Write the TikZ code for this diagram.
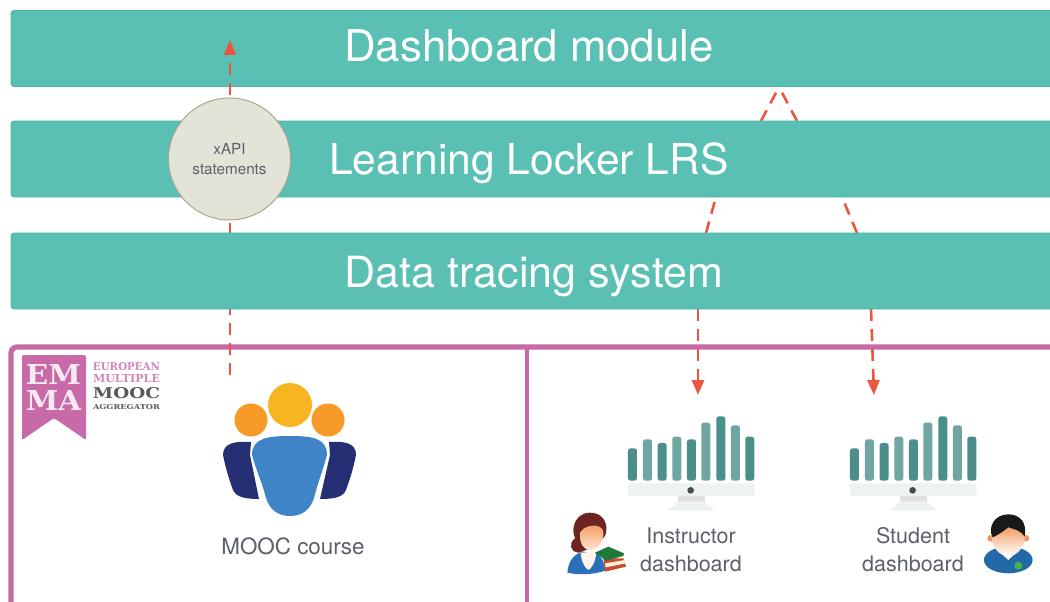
\documentclass[tikz,border=0pt]{standalone}
\usepackage{fontspec}
\usepackage{graphicx}
\setmainfont{TeX Gyre Heros}
\newfontfamily\thinfont{TeX Gyre Heros}[FakeBold=-0.25]
\newfontfamily\slabfont{DejaVu Serif}
\usetikzlibrary{arrows.meta}
\definecolor{tealbar}{HTML}{59C0B3}
\definecolor{tealedge}{HTML}{4DB5A7}
\definecolor{arrowred}{HTML}{E9573F}
\definecolor{framepink}{HTML}{C869A8}
\definecolor{labelgrey}{HTML}{5B606B}
\definecolor{bardark}{HTML}{4A8F89}
\definecolor{barlight}{HTML}{6FA6A1}
\definecolor{stand}{HTML}{EEF2F3}
\definecolor{discfill}{HTML}{E3E3D8}
\definecolor{discedge}{HTML}{A9A78F}
\definecolor{sunyellow}{HTML}{F6B521}
\definecolor{sunorange}{HTML}{F89A27}
\definecolor{navyblue}{HTML}{262F73}
\definecolor{midblue}{HTML}{3F84C6}
\definecolor{hairred}{HTML}{6E2420}
\definecolor{skindark}{HTML}{F2975A}
\definecolor{skinlight}{HTML}{FDE3CE}
\definecolor{coatblue}{HTML}{2A70B8}
\definecolor{bookred}{HTML}{C9492F}
\definecolor{bookgreen}{HTML}{1F7A3A}
\definecolor{shirtblue}{HTML}{2369A8}
\definecolor{pingreen}{HTML}{49B24A}
\tikzset{
  barbox/.style={draw=tealedge,line width=0.8pt,fill=tealbar,rounded corners=3pt,minimum width=1060pt,minimum height=76pt,inner sep=0pt},
  bartext/.style={text=white,inner sep=0pt},
  smalltext/.style={text=labelgrey,font=\fontsize{21.5}{28}\selectfont,align=center,inner sep=0pt},
  flow/.style={draw=arrowred,line width=2.6pt,dash pattern=on 12pt off 8pt},
  flowhead/.style={flow,-{Triangle[length=15pt,width=12pt,fill=arrowred]}},
  pics/monitor/.style={code={
    \foreach \xa/\t/\c in {264/205/bardark,309/178/barlight,353/189/bardark,397/170/barlight,441/178/bardark,484/128/barlight,529/109/bardark,573/136/barlight,616/170/bardark}{
      \fill[\c,rounded corners=2.5pt] (\xa,302) -- (\xa,\t) -- ({\xa+27},\t) -- ({\xa+27},302) -- cycle;
    }
    \fill[stand,rounded corners=2pt] (264,310) rectangle (644,348);
    \fill[black!70] (452,331) circle [radius=10];
    \fill[black!12] (414,348) rectangle (494,365);
    \fill[stand] (414,365) -- (494,365) -- (524,392) -- (382,392) -- cycle;
  }}
}
\begin{document}
\begin{tikzpicture}[x=1pt,y=-1pt]
\clip (0,0) rectangle (1050,602);
\fill[white] (0,0) rectangle (1050,602);
% free ends of connectors
\coordinate (moocstart) at (230,375);
\coordinate (leftend) at (230,40);
\coordinate (fork) at (779,87);
\coordinate (lrsUpL) at (761,121);
\coordinate (lrsUpR) at (797,121);
\coordinate (lrsLowL) at (716,197);
\coordinate (lrsLowR) at (842,197);
\coordinate (dataUpL) at (706,233);
\coordinate (dataUpR) at (857,233);
\coordinate (dataLowL) at (698,309);
\coordinate (dataLowR) at (871,309);
\coordinate (instrEnd) at (698,395);
\coordinate (studEnd) at (874,395);

% frame
\draw[framepink,line width=5.2pt,rounded corners=6pt] (1060,347) -- (11,347) -- (11,612);
\draw[framepink,line width=4.5pt] (527,347) -- (527,612);

\node[barbox] (dashbar) at (541,48.5) {};
\draw[flowhead] (moocstart) -- (leftend);
\draw[flow] (lrsUpL) -- (fork);
\draw[flow] (lrsUpR) -- (fork);
\draw[flow] (dataUpL) -- (lrsLowL);
\draw[flow] (dataUpR) -- (lrsLowR);
\draw[flowhead] (dataLowL) -- (instrEnd);
\draw[flowhead] (dataLowR) -- (studEnd);
\node[barbox] (lrsbar) at (541,159) {};
\node[barbox] (databar) at (541,271) {};
\node[bartext,font=\thinfont\fontsize{43.7}{44}\selectfont] (dashtxt) at (529,46) {Dashboard module};
\node[bartext,font=\thinfont\fontsize{42.6}{44}\selectfont] (lrstxt) at (529,163.5) {Learning Locker LRS};
\node[bartext,font=\thinfont\fontsize{43}{44}\selectfont] (datatxt) at (534,276.5) {Data tracing system};
\node[circle,draw=discedge,line width=1pt,fill=discfill,minimum size=122pt,inner sep=0pt,text=labelgrey,font=\fontsize{15.2}{20}\selectfont,align=center] (xapi) at (229.5,159) {xAPI\\statements};

% EMMA badge
\fill[framepink,rounded corners=2pt] (22,355) -- (86,355) -- (86,440) -- (54,418) -- (22,440) -- cycle;
\node[inner sep=0pt,text=white!85!framepink] (em) at (53.5,374) {\resizebox{55pt}{20pt}{\slabfont\bfseries EM}};
\node[inner sep=0pt,text=white!85!framepink] (ma) at (53.5,400) {\resizebox{55pt}{20pt}{\slabfont\bfseries MA}};
\node[inner sep=0pt,text=framepink!80!white] (eur) at (126.5,367) {\resizebox{67pt}{8pt}{\slabfont\bfseries EUROPEAN}};
\node[inner sep=0pt,text=framepink!80!white] (mul) at (126.5,379) {\resizebox{67pt}{8pt}{\slabfont\bfseries MULTIPLE}};
\node[inner sep=0pt,text=black!65] (moo) at (126.5,393) {\resizebox{67pt}{11pt}{\slabfont\bfseries MOOC}};
\node[inner sep=0pt,text=black!65] (agg) at (126.5,407) {\resizebox{67pt}{5pt}{\slabfont\bfseries AGGREGATOR}};

% people icon
\fill[sunyellow] (290,405) circle [radius=22];
\fill[sunorange] (251,420) circle [radius=16.5];
\fill[sunorange] (328,420) circle [radius=16.5];
\fill[navyblue] (251,442) .. controls (235,441) and (223,443) .. (223,455) .. controls (226,470) and (230,482) .. (233,490) .. controls (236,497) and (245,499) .. (259,499) -- (250,455) -- cycle;
\fill[navyblue] (329,442) .. controls (345,441) and (356,443) .. (356,455) .. controls (353,470) and (349,482) .. (346,490) .. controls (343,497) and (335,499) .. (320,499) -- (330,455) -- cycle;
\fill[midblue] (290,436) .. controls (312,436) and (327,438) .. (327,455) .. controls (323,470) and (318,482) .. (314,498) .. controls (310,510) and (302,516) .. (290,516) .. controls (278,516) and (270,510) .. (266,498) .. controls (262,482) and (256,470) .. (252,455) .. controls (252,438) and (268,436) .. (290,436) -- cycle;
\node[smalltext,font=\fontsize{22.4}{28}\selectfont] (mooctxt) at (293,546) {MOOC course};

% monitors
\begin{scope}[shift={(540,380)},x=0.3333pt,y=-0.3333pt]
  \pic {monitor};
  \begin{scope}[shift={(666,0)}]
    \pic {monitor};
  \end{scope}
  % instructor
  \fill[hairred] (150,398) .. controls (185,398) and (205,425) .. (198,460) .. controls (190,490) and (130,515) .. (115,518) .. controls (90,515) and (85,490) .. (105,475) .. controls (90,440) and (110,398) .. (150,398) -- cycle;
  \shade[top color=skindark,bottom color=skinlight] (120,465) .. controls (120,435) and (185,425) .. (190,455) .. controls (192,490) and (170,510) .. (150,510) .. controls (130,510) and (120,490) .. (120,465) -- cycle;
  \fill[coatblue] (82,578) .. controls (85,540) and (105,520) .. (130,515) -- (170,520) .. controls (185,530) and (195,550) .. (195,572) .. controls (160,585) and (110,585) .. (82,578) -- cycle;
  \fill[white!92!orange] (122,518) -- (168,515) .. controls (170,545) and (150,570) .. (145,570) .. controls (135,565) and (122,540) .. (122,518) -- cycle;
  \fill[bookred] (190,535) -- (250,535) -- (258,560) -- (195,575) -- cycle;
  \fill[white!85!orange] (195,550) -- (255,540) -- (258,550) -- (197,562) -- cycle;
  \fill[bookgreen] (165,518) -- (205,500) -- (252,520) -- (250,528) -- (198,542) -- cycle;
  % student
  \fill[shirtblue] (1405,500) .. controls (1450,500) and (1478,520) .. (1478,540) .. controls (1478,565) and (1440,580) .. (1405,580) .. controls (1370,580) and (1332,565) .. (1332,540) .. controls (1332,520) and (1360,500) .. (1405,500) -- cycle;
  \fill[white] (1372,510) -- (1438,510) -- (1405,540) -- cycle;
  \fill[skindark] (1352,475) circle [radius=10];
  \fill[skindark] (1458,475) circle [radius=10];
  \shade[top color=skindark,bottom color=white] (1355,465) .. controls (1355,435) and (1455,435) .. (1455,465) .. controls (1455,505) and (1430,528) .. (1405,528) .. controls (1380,528) and (1355,505) .. (1355,465) -- cycle;
  \fill[black!90] (1405,403) .. controls (1442,403) and (1462,430) .. (1454,470) .. controls (1440,448) and (1420,448) .. (1405,442) .. controls (1395,450) and (1380,462) .. (1358,472) .. controls (1342,440) and (1365,403) .. (1405,403) -- cycle;
  \fill[pingreen] (1435,557) circle [radius=12];
\end{scope}
\node[smalltext] (instxt) at (691,550) {Instructor\\dashboard};
\node[smalltext] (stutxt) at (913,550) {Student\\dashboard};
\end{tikzpicture}
\end{document}
